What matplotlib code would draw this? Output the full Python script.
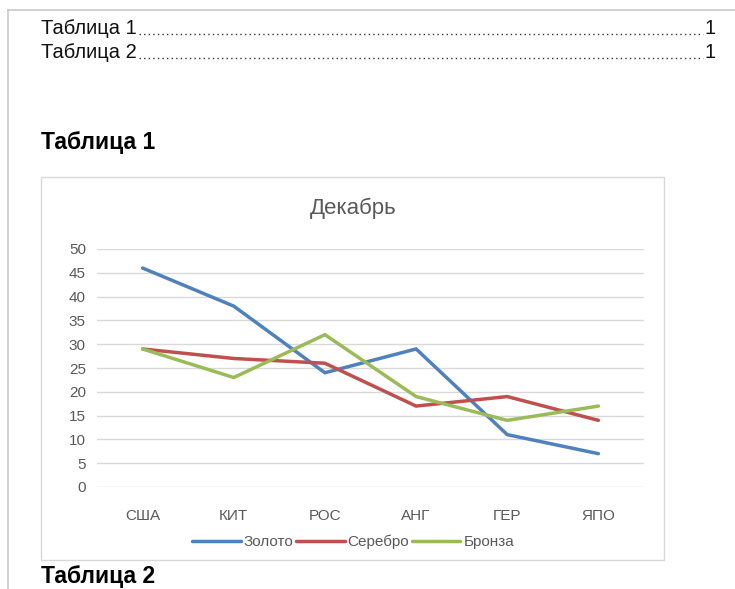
import matplotlib
matplotlib.use("Agg")
import matplotlib.pyplot as plt
from matplotlib.patches import Rectangle
from matplotlib.lines import Line2D

plt.rcParams['font.family'] = ['Liberation Sans', 'DejaVu Sans']

categories = ["США", "КИТ", "РОС", "АНГ", "ГЕР", "ЯПО"]
gold = [46, 38, 24, 29, 11, 7]
silver = [29, 27, 26, 17, 19, 14]
bronze = [29, 23, 32, 19, 14, 17]
series_names = ["Золото", "Серебро", "Бронза"]
series_colors = ["#4F81BD", "#C0504D", "#9BBB59"]
y_ticks = list(range(0, 55, 5))
toc_entries = ["Таблица 1", "Таблица 2"]
toc_pages = ["1", "1"]

W, H = 735, 589
fig = plt.figure(figsize=(W / 100, H / 100), dpi=100)
fig.patch.set_facecolor("white")


def fx(px):
    return px / W


def fy(py):
    return 1 - py / H


# page edges
fig.add_artist(Line2D([fx(8), 1], [fy(10), fy(10)], color="#c8c8c8", lw=1.2))
fig.add_artist(Line2D([fx(8), fx(8)], [fy(10), 0], color="#c8c8c8", lw=1.2))

# table of contents with dotted leaders
fig.canvas.draw()
renderer = fig.canvas.get_renderer()
for i, (entry, page) in enumerate(zip(toc_entries, toc_pages)):
    yc = 28 + i * 24
    t = fig.text(fx(41), fy(yc), entry, fontsize=14.5, va="center", ha="left",
                 color="#111111")
    fig.text(fx(716), fy(yc), page, fontsize=14.5, va="center", ha="right",
             color="#111111")
    bb = t.get_window_extent(renderer)
    x_end = bb.x1 + 2
    fig.add_artist(Line2D([x_end / W, fx(703)], [fy(yc + 6), fy(yc + 6)],
                          color="#333333", lw=1.0, dashes=(1, 2.3)))

fig.text(fx(41), fy(142), "Таблица 1", fontsize=16.5, fontweight="bold",
         va="center", ha="left", color="#000000")
fig.text(fx(41), fy(577), "Таблица 2", fontsize=16.5, fontweight="bold",
         va="center", ha="left", color="#000000")

# chart frame
fig.add_artist(Rectangle((fx(41), fy(560)), fx(664) - fx(41), fy(177) - fy(560),
                         facecolor="white", edgecolor="#d9d9d9", lw=1.0, zorder=1))

ax = fig.add_axes([fx(97), fy(487), fx(644) - fx(97), fy(249) - fy(487)])
ax.set_facecolor("none")
ax.set_zorder(2)
x = list(range(len(categories)))
for vals, name, col in zip([gold, silver, bronze], series_names, series_colors):
    ax.plot(x, vals, color=col, lw=2.5, label=name, solid_capstyle="round",
            solid_joinstyle="miter")

ax.set_xlim(-0.5, len(categories) - 0.5)
ax.set_ylim(0, 50)
ax.set_yticks(y_ticks)
ax.set_xticks(x)
ax.set_xticklabels(categories)
ax.grid(axis="y", color="#d9d9d9", lw=1.0)
ax.set_axisbelow(True)
for s in ax.spines.values():
    s.set_visible(False)
ax.tick_params(axis="both", length=0, labelsize=11, labelcolor="#595959")
ax.tick_params(axis="x", pad=16)
ax.tick_params(axis="y", pad=8)

fig.text(fx(353), fy(208), "Декабрь", fontsize=16, color="#595959",
         ha="center", va="center")

leg = fig.legend(loc="center", bbox_to_anchor=(fx(353), fy(542)), ncol=3, frameon=False,
                 fontsize=11, handlelength=3.2, handletextpad=0.2, columnspacing=0.15)
for t in leg.get_texts():
    t.set_color("#595959")

fig.savefig("out.png", dpi=100, facecolor="white")
